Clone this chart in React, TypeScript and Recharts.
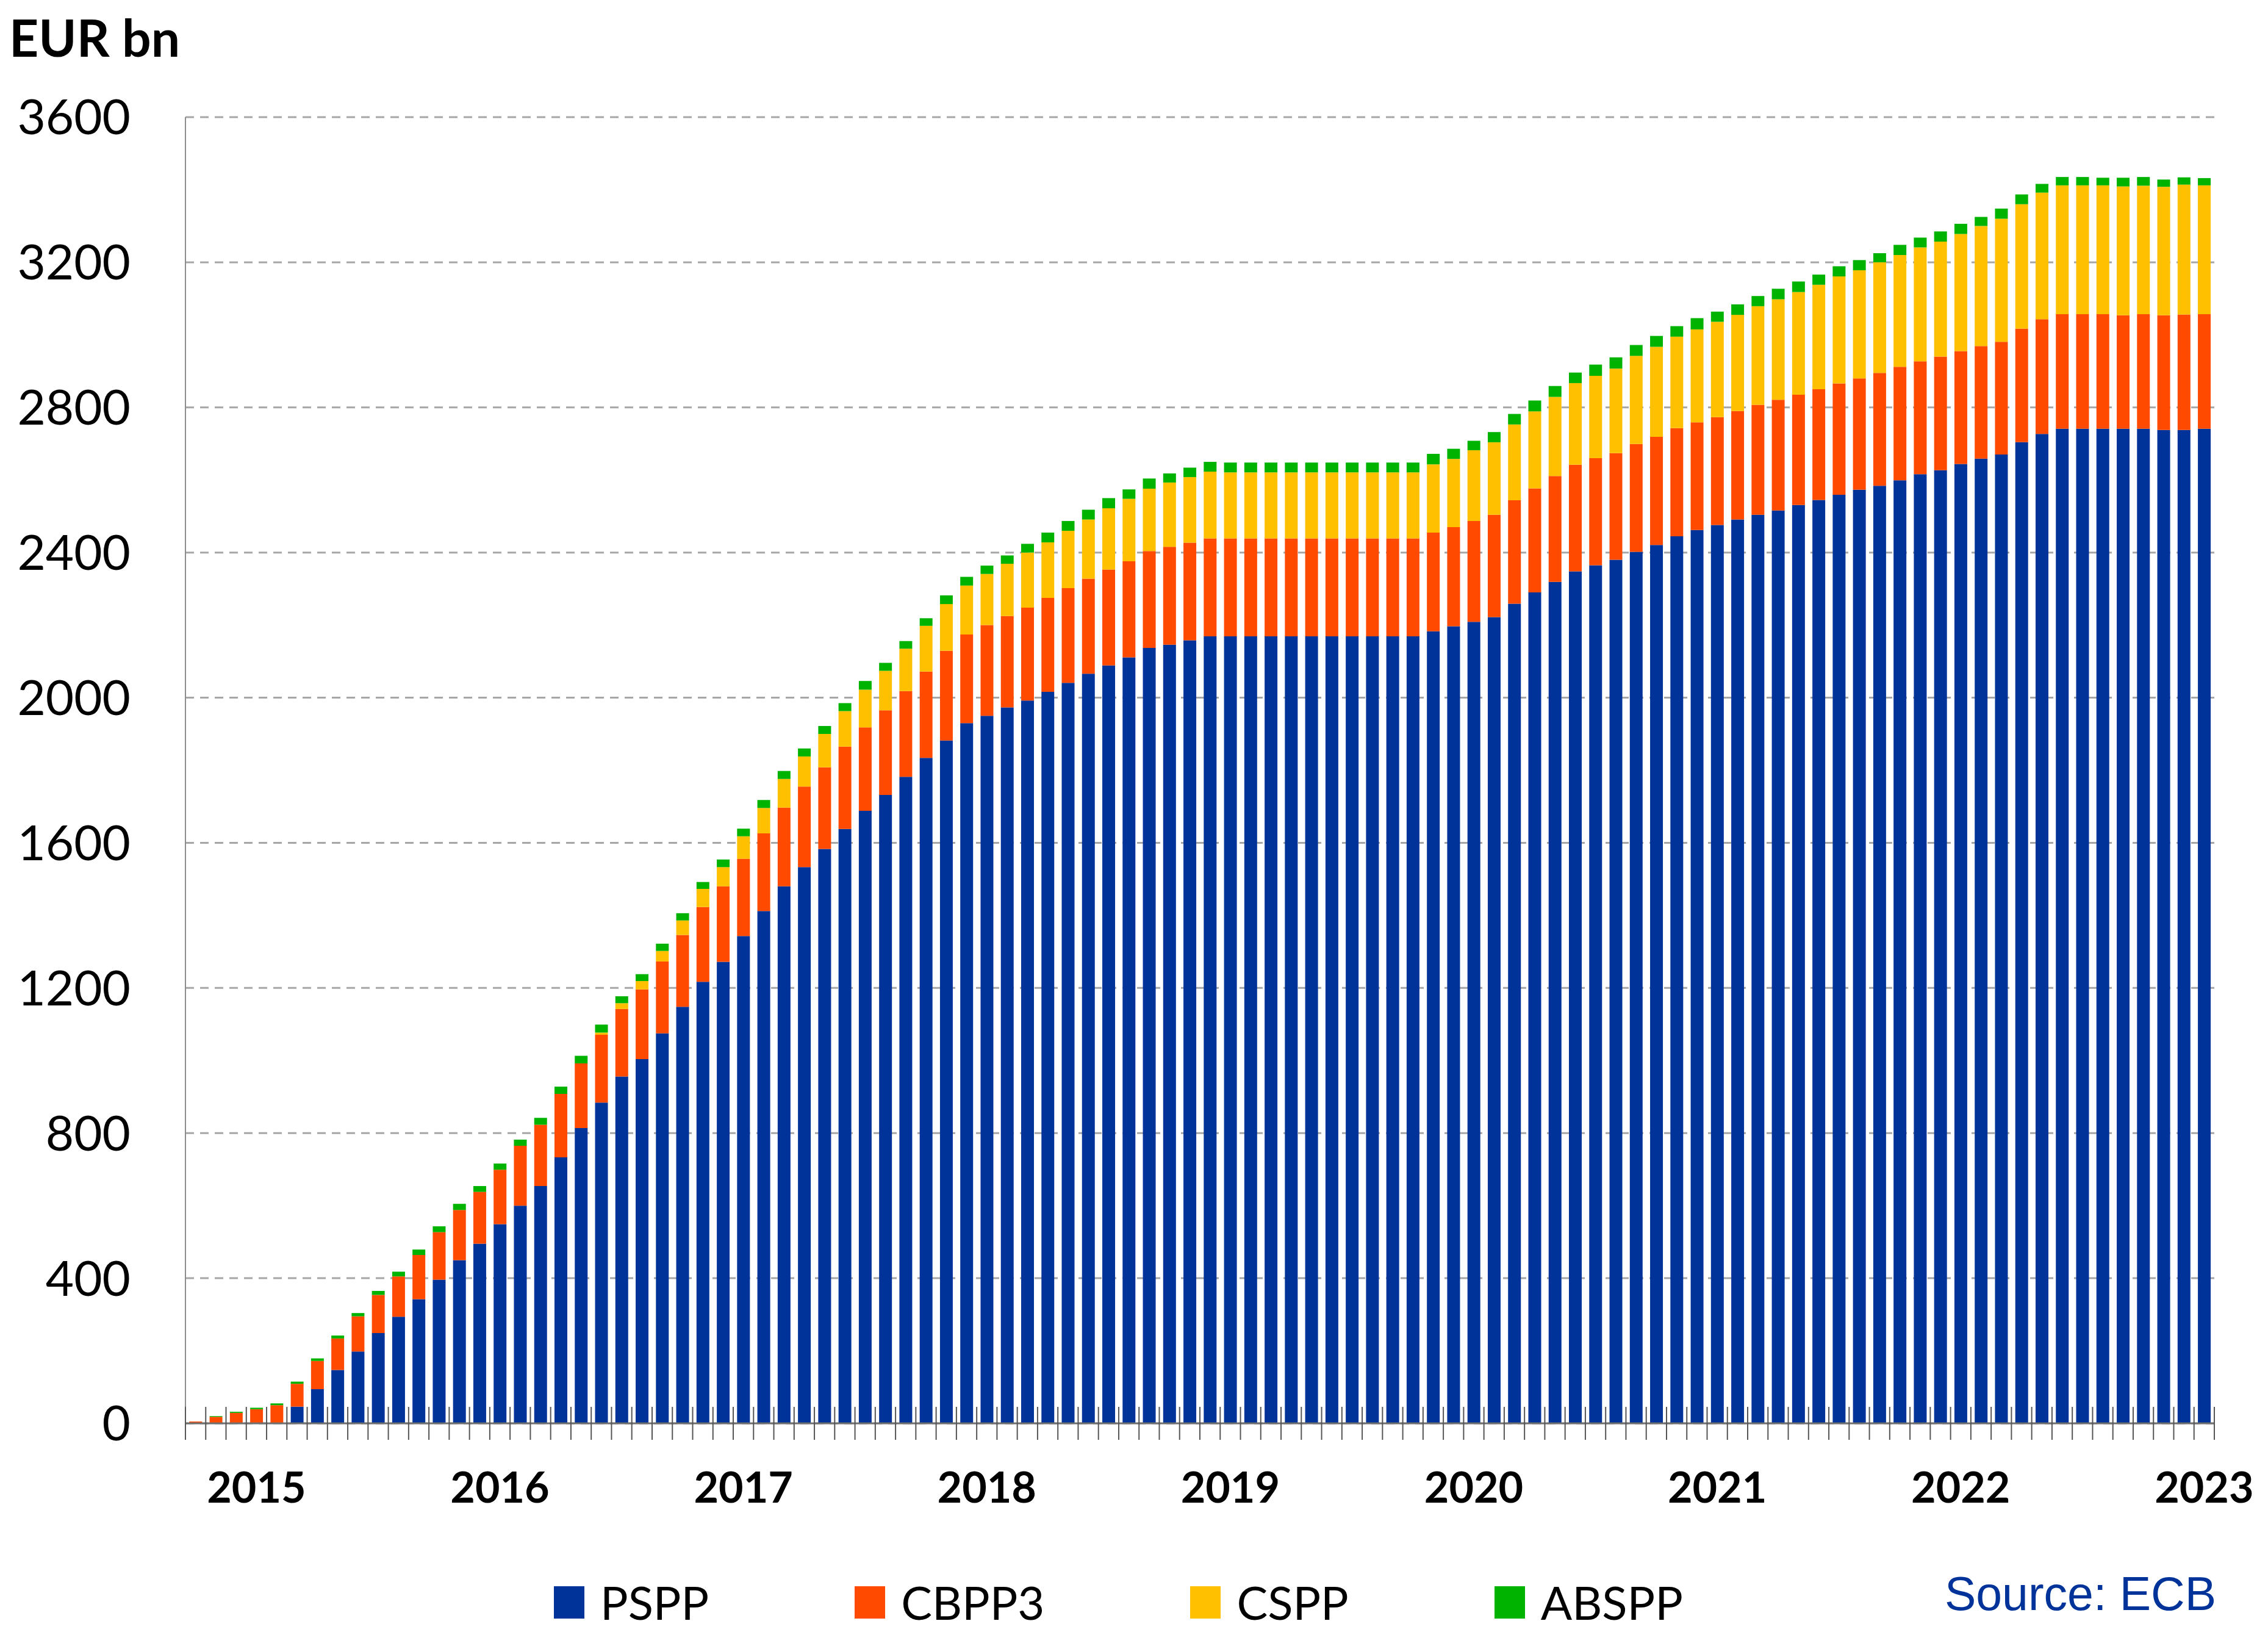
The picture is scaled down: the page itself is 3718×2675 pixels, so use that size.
import React from "react";
import { BarChart, Bar, XAxis, YAxis, CartesianGrid, Legend } from "recharts";

// monthly end-of-period holdings, Oct 2014 - Jan 2023
const months = (
  "2014-10 2014-11 2014-12 " +
  "2015-01 2015-02 2015-03 2015-04 2015-05 2015-06 2015-07 2015-08 2015-09 2015-10 2015-11 2015-12 " +
  "2016-01 2016-02 2016-03 2016-04 2016-05 2016-06 2016-07 2016-08 2016-09 2016-10 2016-11 2016-12 " +
  "2017-01 2017-02 2017-03 2017-04 2017-05 2017-06 2017-07 2017-08 2017-09 2017-10 2017-11 2017-12 " +
  "2018-01 2018-02 2018-03 2018-04 2018-05 2018-06 2018-07 2018-08 2018-09 2018-10 2018-11 2018-12 " +
  "2019-01 2019-02 2019-03 2019-04 2019-05 2019-06 2019-07 2019-08 2019-09 2019-10 2019-11 2019-12 " +
  "2020-01 2020-02 2020-03 2020-04 2020-05 2020-06 2020-07 2020-08 2020-09 2020-10 2020-11 2020-12 " +
  "2021-01 2021-02 2021-03 2021-04 2021-05 2021-06 2021-07 2021-08 2021-09 2021-10 2021-11 2021-12 " +
  "2022-01 2022-02 2022-03 2022-04 2022-05 2022-06 2022-07 2022-08 2022-09 2022-10 2022-11 2022-12 " +
  "2023-01"
).split(" ");

const yearTickMonths = ["2015-01", "2016-01", "2017-01", "2018-01", "2019-01", "2020-01", "2021-01", "2022-01", "2023-01"];
const yearLabels = ["2015", "2016", "2017", "2018", "2019", "2020", "2021", "2022", "2023"];

const yTicks = [0, 400, 800, 1200, 1600, 2000, 2400, 2800, 3200, 3600];

// EUR bn
const pspp = [
  0, 0, 0,
  0, 0, 46, 94, 147, 198, 249, 294, 342, 396, 450, 495,
  549, 600, 654, 733, 814, 884, 956, 1004, 1075, 1148, 1217, 1272,
  1343, 1412, 1480, 1533, 1583, 1638, 1688, 1732, 1782, 1834, 1882, 1930,
  1950, 1973, 1992, 2016, 2041, 2066, 2089, 2111, 2137, 2146, 2158, 2169,
  2169, 2169, 2169, 2169, 2169, 2169, 2169, 2169, 2169, 2169, 2183, 2197,
  2209, 2222, 2259, 2290, 2319, 2348, 2365, 2380, 2402, 2421, 2445, 2462,
  2476, 2491, 2504, 2516, 2531, 2545, 2559, 2573, 2584, 2599, 2616, 2627,
  2644, 2659, 2670, 2704, 2727, 2741, 2741, 2741, 2741, 2741, 2738, 2738,
  2741,
];
const cbpp3 = [
  5, 18, 29,
  39, 50, 63, 78, 87, 97, 105, 111, 122, 131, 138, 143,
  150, 165, 169, 175, 178, 187, 186, 192, 198, 198, 206, 208,
  213, 214, 217, 222, 225, 227, 230, 233, 236, 238, 247, 244,
  250, 252, 256, 259, 261, 262, 264, 265, 267, 270, 269, 270,
  270, 270, 270, 270, 270, 270, 270, 270, 270, 270, 272, 273,
  278, 282, 285, 287, 292, 294, 295, 294, 297, 298, 298, 297,
  297, 299, 303, 305, 304, 305, 307, 307, 311, 313, 311, 313,
  311, 310, 311, 313, 316, 316, 316, 316, 313, 316, 316, 318,
  316,
];
const cspp = [
  0, 0, 0,
  0, 0, 0, 0, 0, 0, 0, 0, 0, 0, 0, 0,
  0, 0, 0, 0, 0, 6, 16, 23, 29, 40, 50, 53,
  62, 70, 79, 83, 92, 98, 104, 109, 117, 126, 129, 135,
  141, 144, 152, 153, 158, 163, 169, 172, 172, 177, 181, 184,
  182, 182, 182, 182, 182, 182, 182, 182, 182, 182, 188, 188,
  195, 200, 209, 212, 218, 225, 227, 233, 243, 248, 252, 256,
  263, 265, 272, 277, 283, 288, 295, 298, 305, 308, 314, 317,
  323, 331, 339, 343, 349, 355, 355, 355, 355, 354, 354, 358,
  355,
];
const abspp = [
  0, 2, 3,
  4, 5, 6, 7, 8, 9, 11, 13, 15, 16, 17, 16,
  17, 17, 19, 20, 21, 22, 19, 19, 20, 20, 19, 21,
  21, 22, 22, 22, 22, 22, 24, 22, 21, 21, 24, 24,
  23, 23, 24, 27, 27, 27, 28, 26, 28, 25, 26, 27,
  27, 27, 27, 27, 27, 27, 27, 27, 27, 27, 29, 28,
  26, 28, 29, 30, 30, 29, 31, 31, 30, 30, 29, 31,
  28, 29, 28, 29, 29, 28, 28, 28, 25, 28, 27, 28,
  28, 25, 28, 27, 24, 23, 23, 21, 24, 24, 20, 20,
  20,
];

const seriesKeys = ["PSPP", "CBPP3", "CSPP", "ABSPP"];
const seriesColors = ["#00339a", "#ff4a00", "#ffc000", "#00b300"];

const data = months.map((m, i) => ({
  month: m,
  PSPP: pspp[i],
  CBPP3: cbpp3[i],
  CSPP: cspp[i],
  ABSPP: abspp[i],
}));

const W = 3718;
const H = 2675;
const MARGIN = { top: 192, right: 88, left: 0, bottom: 0 };
const Y_AXIS_W = 304;
const X_AXIS_H = 342;
const BAND = (W - MARGIN.right - Y_AXIS_W) / months.length;

const MonthTick = (props: any) => {
  const { x, y, payload, index } = props;
  const k = yearTickMonths.indexOf(payload.value);
  return (
    <g>
      <line x1={x - BAND / 2} x2={x - BAND / 2} y1={y - 27} y2={y + 27} stroke="#555" strokeWidth={2} />
      {index === months.length - 1 && (
        <line x1={x + BAND / 2} x2={x + BAND / 2} y1={y - 27} y2={y + 27} stroke="#555" strokeWidth={2} />
      )}
      {k >= 0 && (
        <text x={x} y={y + 130} textAnchor="middle" fontFamily="Lato" fontWeight="bold" fontSize={70} fill="#000">
          {yearLabels[k]}
        </text>
      )}
    </g>
  );
};

const renderLegend = () => (
  <div
    style={{
      display: "flex",
      alignItems: "center",
      paddingLeft: 908,
      fontFamily: "Lato",
      fontSize: 76,
      lineHeight: "80px",
      color: "#000",
    }}
  >
    {seriesKeys.map((k, i) => (
      <div key={k} style={{ display: "flex", alignItems: "center", marginRight: 239 }}>
        <span style={{ display: "inline-block", width: 50, height: 53, background: seriesColors[i], marginRight: 26 }} />
        <span>{k}</span>
      </div>
    ))}
  </div>
);

export default function App() {
  return (
    <div style={{ position: "absolute", left: 0, top: 0, width: W, height: H, background: "#fff" }}>
      <div
        style={{
          position: "absolute",
          left: 15,
          top: 19,
          fontFamily: "Lato",
          fontWeight: "bold",
          fontSize: 84,
          lineHeight: "84px",
          color: "#000",
        }}
      >
        EUR bn
      </div>
      <BarChart width={W} height={H} data={data} margin={MARGIN} barCategoryGap="19%">
        <CartesianGrid vertical={false} stroke="#a6a6a6" strokeWidth={3} strokeDasharray="14 10" />
        <XAxis
          dataKey="month"
          type="category"
          interval={0}
          height={X_AXIS_H}
          tickLine={false}
          tickSize={0}
          tickMargin={0}
          tick={<MonthTick />}
          axisLine={{ stroke: "#707070", strokeWidth: 3 }}
        />
        <YAxis
          width={Y_AXIS_W}
          domain={[0, 3600]}
          ticks={yTicks}
          interval={0}
          tickLine={false}
          tickSize={0}
          tickMargin={90}
          axisLine={{ stroke: "#8c8c8c", strokeWidth: 2 }}
          tick={{ fontFamily: "Lato", fontSize: 80, fill: "#000" }}
        />
        <Legend
          layout="horizontal"
          verticalAlign="middle"
          align="center"
          content={renderLegend}
          wrapperStyle={{ top: 2586, left: 0, width: W, height: 80 }}
        />
        {seriesKeys.map((k, i) => (
          <Bar key={k} dataKey={k} stackId="a" fill={seriesColors[i]} isAnimationActive={false} />
        ))}
      </BarChart>
      <div
        style={{
          position: "absolute",
          right: W - 3633,
          top: 2574,
          fontFamily: "Liberation Sans",
          fontSize: 77,
          lineHeight: "77px",
          color: "#003399",
          whiteSpace: "nowrap",
        }}
      >
        Source: ECB
      </div>
    </div>
  );
}
